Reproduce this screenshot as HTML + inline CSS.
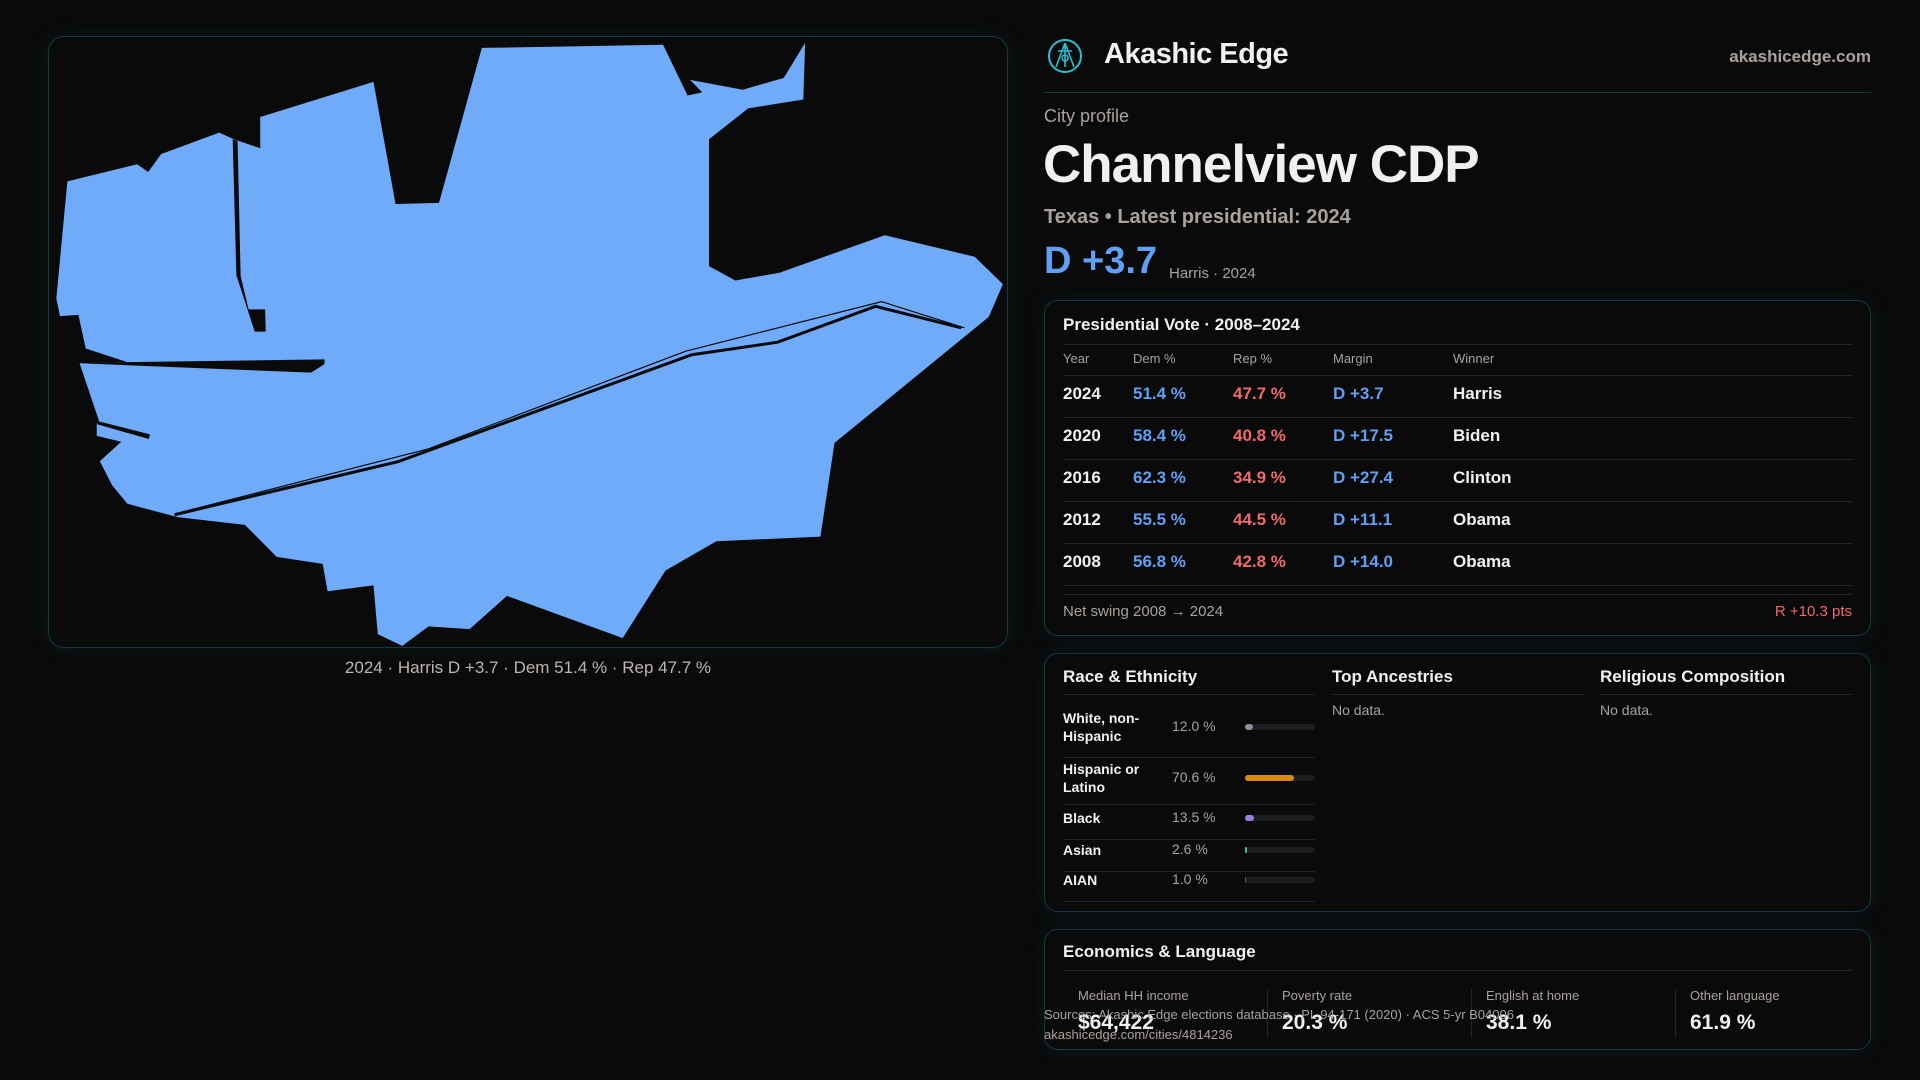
<!DOCTYPE html>
<html><head><meta charset="utf-8">
<style>
*{box-sizing:border-box;margin:0;padding:0}
body{width:1920px;height:1080px;background:#0a0a0b;font-family:"Liberation Sans",sans-serif;color:#f2f0ee;position:relative;overflow:hidden}
.abs{position:absolute;white-space:nowrap}
.card{position:absolute;border:1px solid #123a40;border-radius:14px;background:#0a0a0b;box-shadow:0 0 18px rgba(20,70,80,0.25)}
.muted{color:#a9a29c}
.blue{color:#5fa0f4}
.red{color:#f06a6a}
.hline{position:absolute;height:1px;background:#222326}
</style></head><body>
<div class="card" style="left:48px;top:36px;width:960px;height:612px;border-radius:16px">
<svg style="position:absolute;left:0;top:0" width="960" height="612" viewBox="0 0 1568 1568" preserveAspectRatio="none">
<polygon fill="#70abfa" points="707,28 1003,20 1043,150 1067,142 1047,110 1133,135 1200,105 1235,15 1232,160 1142,183 1078,262 1078,587 1121,624 1193,604 1365,508 1512,563 1558,633 1535,717 1283,1040 1260,1280 1090,1292 1007,1367 937,1540 748,1432 687,1517 620,1510 577,1560 537,1530 530,1405 455,1420 447,1350 372,1332 320,1250 210,1230 128,1196 103,1148 83,1087 118,1037 78,1022 78,990 82,985 50,836 128,833 60,798 48,712 18,715 12,670 30,370 144,326 162,346 183,300 278,245 302,262 345,285 345,205 530,115 566,428 637,425"/>
<polygon fill="#0a0a0b" points="300,262 306,610 336,755 354,755 353,698 326,698 313,612 308,266"/>
<polygon fill="#0a0a0b" points="50,836 128,833 450,826 450,838 428,860"/>
<polygon fill="#0a0a0b" points="82,985 165,1018 163,1030 78,992"/>
<polyline fill="none" stroke="#0a0a0b" stroke-width="3" vector-effect="non-scaling-stroke" points="205,1224 570,1088 1050,814 1190,782 1350,690 1490,745"/>
<polyline fill="none" stroke="#0a0a0b" stroke-width="1.2" vector-effect="non-scaling-stroke" points="215,1218 620,1055 1040,805 1360,678 1495,745"/>
</svg>
</div>
<div class="abs muted" style="left:0;width:1056px;text-align:center;top:658px;font-size:17px;color:#bdb6b0">2024 · Harris D +3.7 · Dem 51.4 % · Rep 47.7 %</div>

<svg class="abs" style="left:1046px;top:37px" width="38" height="38" viewBox="0 0 38 38">
<circle cx="19" cy="19" r="16" fill="none" stroke="#2bc0d0" stroke-width="2"/>
<path d="M19 6 L10 30 M19 6 L28 30 M12 14 L26 14 M19 8 L19 30" stroke="#2bc0d0" stroke-width="1.6" fill="none"/>
<circle cx="19" cy="21" r="3" fill="none" stroke="#2bc0d0" stroke-width="1.5"/>
</svg>
<div class="abs" style="left:1104px;top:38px;font-size:29px;font-weight:bold;letter-spacing:-0.5px">Akashic Edge</div>
<div class="abs muted" style="right:49px;top:47px;font-size:17px;font-weight:bold">akashicedge.com</div>
<div class="hline" style="left:1044px;top:92px;width:827px;background:#12393f"></div>
<div class="abs muted" style="left:1044px;top:106px;font-size:18px">City profile</div>
<div class="abs" style="left:1043px;top:134px;font-size:53px;font-weight:bold;letter-spacing:-1px">Channelview CDP</div>
<div class="abs muted" style="left:1044px;top:206px;font-size:20px;font-weight:bold">Texas • Latest presidential: 2024</div>
<div class="abs blue" style="left:1044px;top:240px;font-size:38px;font-weight:bold">D +3.7</div>
<div class="abs muted" style="left:1169px;top:265px;font-size:15px">Harris · 2024</div>

<div class="card" style="left:1044px;top:300px;width:827px;height:336px">
<div class="abs" style="left:18px;top:14px;font-size:17px;font-weight:bold">Presidential Vote · 2008–2024</div>
<div class="hline" style="left:18px;top:43px;width:790px"></div>
<div id="vt"></div>
<div class="hline" style="left:18px;top:293px;width:790px"></div>
<div class="abs muted" style="left:18px;top:302px;font-size:15px">Net swing 2008 → 2024</div>
<div class="abs red" style="right:18px;top:302px;font-size:15px">R +10.3 pts</div>
</div>

<div class="card" style="left:1044px;top:653px;width:827px;height:259px">
<div class="abs" style="left:18px;top:13px;font-size:17px;font-weight:bold">Race &amp; Ethnicity</div>
<div class="hline" style="left:18px;top:40px;width:252px"></div>
<div class="abs" style="left:287px;top:13px;font-size:17px;font-weight:bold">Top Ancestries</div>
<div class="hline" style="left:287px;top:40px;width:252px"></div>
<div class="abs muted" style="left:287px;top:48px;font-size:14px">No data.</div>
<div class="abs" style="left:555px;top:13px;font-size:17px;font-weight:bold">Religious Composition</div>
<div class="hline" style="left:555px;top:40px;width:252px"></div>
<div class="abs muted" style="left:555px;top:48px;font-size:14px">No data.</div>
<div id="race"></div>
</div>

<div class="card" style="left:1044px;top:929px;width:827px;height:121px">
<div class="abs" style="left:18px;top:12px;font-size:17px;font-weight:bold">Economics &amp; Language</div>
<div class="hline" style="left:18px;top:40px;width:790px"></div>
<div id="econ"></div>
</div>
<div class="abs muted" style="left:1044px;top:1007px;font-size:13px;color:#a9a29c">Sources: Akashic Edge elections database · PL 94-171 (2020) · ACS 5-yr B04006</div>
<div class="abs muted" style="left:1044px;top:1027px;font-size:13px;color:#a9a29c">akashicedge.com/cities/4814236</div>

<script>
const years=["2024","2020","2016","2012","2008"];
const demPct=[51.4,58.4,62.3,55.5,56.8];
const repPct=[47.7,40.8,34.9,44.5,42.8];
const margins=["D +3.7","D +17.5","D +27.4","D +11.1","D +14.0"];
const winners=["Harris","Biden","Clinton","Obama","Obama"];
const raceLabels=["White, non-Hispanic","Hispanic or Latino","Black","Asian","AIAN"];
const racePct=[12.0,70.6,13.5,2.6,1.0];
const raceColors=["#8a8f99","#d88a0e","#9a7fe0","#2fc7a0","#555"];
const econLabels=["Median HH income","Poverty rate","English at home","Other language"];
const econValues=["$64,422","20.3 %","38.1 %","61.9 %"];

const vt=document.getElementById('vt');
const colX=[18,88,188,288,408];
const hdr=["Year","Dem %","Rep %","Margin","Winner"];
hdr.forEach((h,i)=>{const d=document.createElement('div');d.className='abs muted';d.style.cssText=`left:${colX[i]}px;top:50px;font-size:13px`;d.textContent=h;


vt.appendChild(d);});
const hl=document.createElement('div');hl.className='hline';hl.style.cssText='left:18px;top:74px;width:790px';vt.appendChild(hl);
years.forEach((y,r)=>{
  const top=83+r*42;
  const cells=[[y,''],[demPct[r].toFixed(1)+' %','blue'],[repPct[r].toFixed(1)+' %','red'],[margins[r],'blue'],[winners[r],'']];
  cells.forEach((c,i)=>{const d=document.createElement('div');d.className='abs '+c[1];d.style.cssText=`left:${colX[i]}px;top:${top}px;font-size:17px;font-weight:bold`;d.textContent=c[0];
  
  
  vt.appendChild(d);});
  const l=document.createElement('div');l.className='hline';l.style.cssText=`left:18px;top:${top+33}px;width:790px`;vt.appendChild(l);
});

const race=document.getElementById('race');
const rowTops=[55,106,155,187,217];
const rowH=[48,44,30,30,30];
raceLabels.forEach((lab,i)=>{
  const t=rowTops[i];
  const two=lab.length>12;
  const d=document.createElement('div');d.className='abs';d.style.cssText=`left:18px;top:${t}px;width:100px;white-space:normal;font-size:14px;font-weight:bold;line-height:18px`;
  d.textContent=lab;
  
  
  race.appendChild(d);
  const cy=t+(two?18:9);
  const p=document.createElement('div');p.className='abs muted';p.style.cssText=`left:127px;top:${cy-9}px;font-size:14px`;p.textContent=racePct[i].toFixed(1)+' %';
  
  
  race.appendChild(p);
  const tr=document.createElement('div');tr.className='abs';tr.style.cssText=`left:200px;top:${cy-3}px;width:70px;height:6px;border-radius:3px;background:#1c1d20`;
  
  
  const b=document.createElement('div');b.style.cssText=`width:${Math.max(1,70*racePct[i]/100)}px;height:6px;border-radius:3px;background:${raceColors[i]}`;
  
  
  tr.appendChild(b);race.appendChild(tr);
  const l=document.createElement('div');l.className='hline';l.style.cssText=`left:18px;top:${t+rowH[i]}px;width:252px`;race.appendChild(l);
});

const econ=document.getElementById('econ');
econLabels.forEach((lab,i)=>{
  const x=18+i*204;
  if(i>0){const s=document.createElement('div');s.className='abs';s.style.cssText=`left:${x}px;top:58px;width:1px;height:50px;background:#222326`;econ.appendChild(s);}
  const a=document.createElement('div');a.className='abs muted';a.style.cssText=`left:${x+15}px;top:58px;font-size:13px`;a.textContent=lab;
  
  
  econ.appendChild(a);
  const v=document.createElement('div');v.className='abs';v.style.cssText=`left:${x+15}px;top:81px;font-size:21px;font-weight:bold`;v.textContent=econValues[i];
  
  
  econ.appendChild(v);
});
</script>
</body></html>
